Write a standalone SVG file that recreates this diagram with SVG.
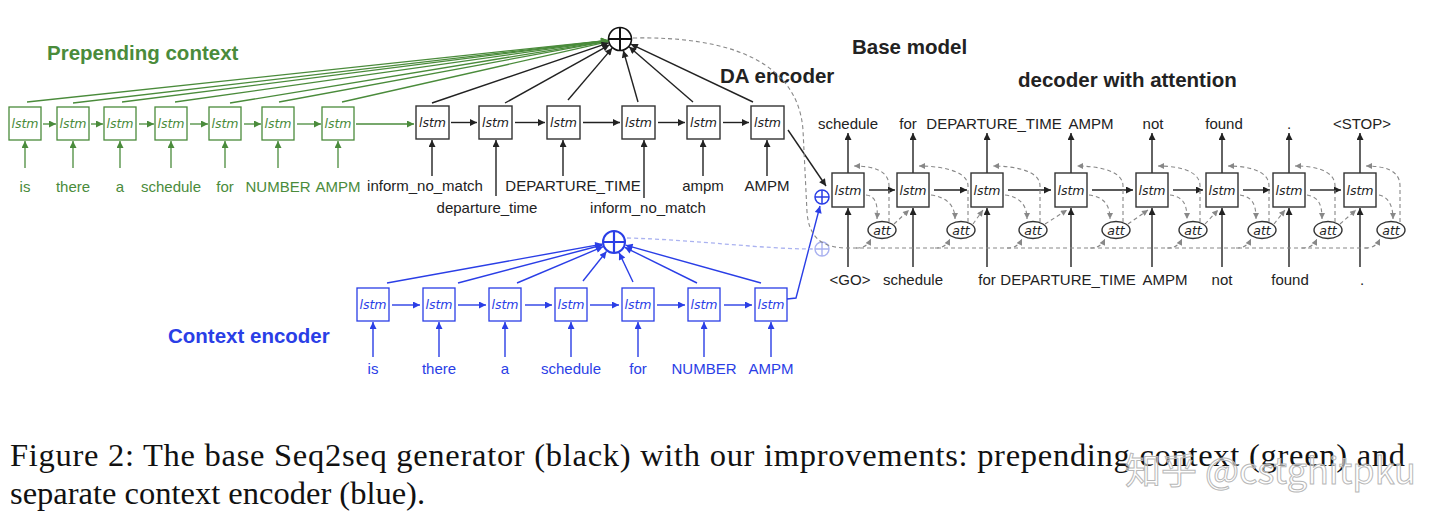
<svg xmlns="http://www.w3.org/2000/svg" width="1440" height="530" viewBox="0 0 1440 530">
<defs>
<style>
.t{font-family:"Liberation Sans",Arial,sans-serif;font-size:15px;text-anchor:middle}
.h{font-family:"Liberation Sans",Arial,sans-serif;font-size:20.5px;font-weight:bold}
.ls{font-family:"DejaVu Sans","Liberation Sans",sans-serif;font-size:12.5px;font-style:italic;text-anchor:middle}
.g{fill:#4a8b3b}.b{fill:#2a3ee6}.k{fill:#222}
.bg{fill:#fff;stroke:#4a8b3b;stroke-width:1.3}
.bb{fill:#fff;stroke:#2a3ee6;stroke-width:1.3}
.bk{fill:#fff;stroke:#333;stroke-width:1.4}
.lg{stroke:#4a8b3b;stroke-width:1.3;fill:none;marker-end:url(#ag)}
.lb{stroke:#2a3ee6;stroke-width:1.4;fill:none;marker-end:url(#ab)}
.lk{stroke:#222;stroke-width:1.4;fill:none;marker-end:url(#ak)}
.ld{stroke:#888;stroke-width:1.1;stroke-dasharray:4 3;fill:none;marker-end:url(#ad)}
.ldn{stroke:#888;stroke-width:1.1;stroke-dasharray:4 3;fill:none}
.cap{font-family:"Liberation Serif","Times New Roman",serif;font-size:32.5px;fill:#111}
</style>
<marker id="ak" viewBox="0 0 10 10" refX="10" refY="5" markerWidth="9" markerHeight="7" markerUnits="userSpaceOnUse" orient="auto"><path d="M0,0 L10,5 L0,10 z" fill="#222"/></marker>
<marker id="ag" viewBox="0 0 10 10" refX="10" refY="5" markerWidth="9" markerHeight="7" markerUnits="userSpaceOnUse" orient="auto"><path d="M0,0 L10,5 L0,10 z" fill="#4a8b3b"/></marker>
<marker id="ab" viewBox="0 0 10 10" refX="10" refY="5" markerWidth="9" markerHeight="7" markerUnits="userSpaceOnUse" orient="auto"><path d="M0,0 L10,5 L0,10 z" fill="#2a3ee6"/></marker>
<marker id="ad" viewBox="0 0 10 10" refX="10" refY="5" markerWidth="8" markerHeight="6" markerUnits="userSpaceOnUse" orient="auto"><path d="M0,0 L10,5 L0,10 z" fill="#888"/></marker>
</defs>
<rect width="1440" height="530" fill="#fff"/>

<!-- titles -->
<text class="h g" x="47" y="60">Prepending context</text>
<text class="h k" x="720" y="83">DA encoder</text>
<text class="h k" x="852" y="54">Base model</text>
<text class="h k" x="1018" y="87">decoder with attention</text>
<text class="h b" x="168" y="343">Context encoder</text>

<!-- sum nodes -->
<g id="sum-top"><circle cx="620" cy="39" r="11.5" fill="#fff" stroke="#111" stroke-width="1.6"/><path d="M608.5,39 H631.5 M620,27.5 V50.5" stroke="#111" stroke-width="2"/></g>
<g id="sum-ctx"><circle cx="614" cy="242" r="11" fill="#fff" stroke="#2a3ee6" stroke-width="2"/><path d="M603,242 H625 M614,231 V253" stroke="#2a3ee6" stroke-width="2.2"/></g>
<g id="sum-init"><circle cx="822" cy="197" r="7" fill="#fff" stroke="#2a3ee6" stroke-width="1.5"/><path d="M815,197 H829 M822,190 V204" stroke="#2a3ee6" stroke-width="1.5"/></g>
<g id="sum-init2"><circle cx="822" cy="249" r="7" fill="#fff" stroke="#aab2f0" stroke-width="1.4"/><path d="M815,249 H829 M822,242 V256" stroke="#aab2f0" stroke-width="1.4"/></g>

<!-- connectors -->
<g id="connectors">
<path class="lg" d="M27,102 L608.1,40.3"/>
<path class="lg" d="M73,103 L608.1,40.4"/>
<path class="lg" d="M122,102 L608.1,40.5"/>
<path class="lg" d="M175,102 L608.1,40.7"/>
<path class="lg" d="M230,103 L608.2,40.9"/>
<path class="lg" d="M279,102 L608.2,41.2"/>
<path class="lg" d="M342,102 L608.3,41.7"/>
<path class="lg" d="M43,124 H56"/>
<path class="lg" d="M91,124 H103"/>
<path class="lg" d="M139,124 H154"/>
<path class="lg" d="M190,124 H208"/>
<path class="lg" d="M244,124 H261"/>
<path class="lg" d="M297,124 H321"/>
<path class="lg" d="M356,124 H414"/>
<path class="lg" d="M25,168 V141"/>
<path class="lg" d="M73,168 V141"/>
<path class="lg" d="M120,168 V141"/>
<path class="lg" d="M171,168 V141"/>
<path class="lg" d="M225,168 V141"/>
<path class="lg" d="M278,168 V141"/>
<path class="lg" d="M338,168 V141"/>
<path class="lk" d="M432,103 L608.6,42.9"/>
<path class="lk" d="M505,103 L609.5,44.8"/>
<path class="lk" d="M568,100 L612.2,48.1"/>
<path class="lk" d="M638,102 L623.3,50.5"/>
<path class="lk" d="M693,102 L629.1,46.8"/>
<path class="lk" d="M753,102 L630.8,44.1"/>
<path class="lk" d="M451,122.5 H477"/>
<path class="lk" d="M515,122.5 H545"/>
<path class="lk" d="M583,122.5 H620"/>
<path class="lk" d="M658,122.5 H685"/>
<path class="lk" d="M723,122.5 H749"/>
<path class="lk" d="M432,176 V140"/>
<path class="lk" d="M496,196 V140"/>
<path class="lk" d="M563,176 V140"/>
<path class="lk" d="M644,198 V140"/>
<path class="lk" d="M703,176 V140"/>
<path class="lk" d="M767,176 V140"/>
<path class="lk" d="M788,130 L826,186"/>
<path class="lb" d="M387,283 L602.2,244.1"/>
<path class="lb" d="M458,283 L602.4,245"/>
<path class="lb" d="M517,283 L603,246.7"/>
<path class="lb" d="M583,281 L606.5,251.4"/>
<path class="lb" d="M633,282 L619.1,252.8"/>
<path class="lb" d="M697,283 L624.8,247.3"/>
<path class="lb" d="M761,283 L625.6,245.2"/>
<path class="lb" d="M392,305 H420"/>
<path class="lb" d="M458,305 H486"/>
<path class="lb" d="M525,305 H552"/>
<path class="lb" d="M590,305 H619"/>
<path class="lb" d="M657,305 H685"/>
<path class="lb" d="M724,305 H752"/>
<path class="lb" d="M373,357 V322"/>
<path class="lb" d="M439,357 V322"/>
<path class="lb" d="M505,357 V322"/>
<path class="lb" d="M571,357 V322"/>
<path class="lb" d="M638,357 V322"/>
<path class="lb" d="M704,357 V322"/>
<path class="lb" d="M771,357 V322"/>
<path class="lb" d="M787,299 L796,298 L820,206"/>
<path d="M627,238 C700,240 760,249 814,249" stroke="#aab2f0" stroke-width="1.3" stroke-dasharray="4 3" fill="none"/>
<path class="lk" d="M869,190 H895"/>
<path class="lk" d="M934,190 H967"/>
<path class="lk" d="M1008,190 H1051"/>
<path class="lk" d="M1092,190 H1133"/>
<path class="lk" d="M1173,190 H1203"/>
<path class="lk" d="M1243,190 H1270"/>
<path class="lk" d="M1310,190 H1341"/>
<path class="lk" d="M848,173 V133"/>
<path class="lk" d="M913,173 V133"/>
<path class="lk" d="M987,173 V133"/>
<path class="lk" d="M1071,173 V133"/>
<path class="lk" d="M1152,173 V133"/>
<path class="lk" d="M1222,173 V133"/>
<path class="lk" d="M1289,173 V133"/>
<path class="lk" d="M1360,173 V133"/>
<path class="lk" d="M848,267 V208"/>
<path class="lk" d="M913,267 V208"/>
<path class="lk" d="M987,267 V208"/>
<path class="lk" d="M1071,267 V208"/>
<path class="lk" d="M1152,267 V208"/>
<path class="lk" d="M1222,267 V208"/>
<path class="lk" d="M1289,267 V208"/>
<path class="lk" d="M1360,267 V208"/>
<path class="ldn" d="M633,38 C730,36 798,62 803,130 L807,212 C809,238 822,248 848,248 L1368,248"/>
<path class="ld" d="M866,195 C876,196 878,205 877,219"/>
<path class="ld" d="M931,195 C946,197 955,205 955,219"/>
<path class="ld" d="M1005,195 C1020,197 1027,205 1027,219"/>
<path class="ld" d="M1089,195 C1104,197 1110,205 1110,219"/>
<path class="ld" d="M1170,195 C1184,197 1187,205 1187,219"/>
<path class="ld" d="M1240,195 C1253,197 1256,205 1256,219"/>
<path class="ld" d="M1307,195 C1319,197 1322,205 1322,219"/>
<path class="ld" d="M1379,195 C1388,197 1393,205 1393,219"/>
<path class="ld" d="M889,222 V186 C889,169 870,166 854,166"/>
<path class="ld" d="M968,222 V186 C968,169 935,166 919,166"/>
<path class="ld" d="M1040,222 V186 C1040,169 1009,166 993,166"/>
<path class="ld" d="M1123,222 V186 C1123,169 1093,166 1077,166"/>
<path class="ld" d="M1200,222 V186 C1200,169 1174,166 1158,166"/>
<path class="ld" d="M1269,222 V186 C1269,169 1244,166 1228,166"/>
<path class="ld" d="M1335,222 V186 C1335,169 1311,166 1295,166"/>
<path class="ld" d="M1400,222 V186 C1400,169 1382,166 1366,166"/>
<path class="ld" d="M894,224 L909,210"/>
<path class="ld" d="M973,224 L983,210"/>
<path class="ld" d="M1045,224 L1067,210"/>
<path class="ld" d="M1128,224 L1148,210"/>
<path class="ld" d="M1205,224 L1218,210"/>
<path class="ld" d="M1274,224 L1285,210"/>
<path class="ld" d="M1340,224 L1356,210"/>
<path class="ld" d="M856,248 C864,248 868,245 871,239"/>
<path class="ld" d="M935,248 C943,248 947,245 950,239"/>
<path class="ld" d="M1007,248 C1015,248 1019,245 1022,239"/>
<path class="ld" d="M1090,248 C1098,248 1102,245 1105,239"/>
<path class="ld" d="M1167,248 C1175,248 1179,245 1182,239"/>
<path class="ld" d="M1236,248 C1244,248 1248,245 1251,239"/>
<path class="ld" d="M1302,248 C1310,248 1314,245 1317,239"/>
<path class="ld" d="M1365,248 C1373,248 1377,245 1380,239"/>
</g>

<g id="pc1"><rect class="bg" x="9" y="107" width="32" height="33"/><text class="ls g" x="25" y="128">lstm</text></g>
<g id="pc2"><rect class="bg" x="57" y="107" width="32" height="33"/><text class="ls g" x="73" y="128">lstm</text></g>
<g id="pc3"><rect class="bg" x="104" y="107" width="32" height="33"/><text class="ls g" x="120" y="128">lstm</text></g>
<g id="pc4"><rect class="bg" x="155" y="107" width="32" height="33"/><text class="ls g" x="171" y="128">lstm</text></g>
<g id="pc5"><rect class="bg" x="209" y="107" width="32" height="33"/><text class="ls g" x="225" y="128">lstm</text></g>
<g id="pc6"><rect class="bg" x="262" y="107" width="32" height="33"/><text class="ls g" x="278" y="128">lstm</text></g>
<g id="pc7"><rect class="bg" x="322" y="107" width="32" height="33"/><text class="ls g" x="338" y="128">lstm</text></g>
<g id="pc-labels">
<text class="t g" x="25" y="192">is</text>
<text class="t g" x="73" y="192">there</text>
<text class="t g" x="120" y="192">a</text>
<text class="t g" x="171" y="192">schedule</text>
<text class="t g" x="225" y="192">for</text>
<text class="t g" x="278" y="192">NUMBER</text>
<text class="t g" x="338" y="192">AMPM</text>
</g>

<g id="da1"><rect class="bk" x="416" y="106" width="33" height="33"/><text class="ls k" x="432.5" y="127">lstm</text></g>
<g id="da2"><rect class="bk" x="479" y="106" width="33" height="33"/><text class="ls k" x="495.5" y="127">lstm</text></g>
<g id="da3"><rect class="bk" x="547" y="106" width="33" height="33"/><text class="ls k" x="563.5" y="127">lstm</text></g>
<g id="da4"><rect class="bk" x="622" y="106" width="33" height="33"/><text class="ls k" x="638.5" y="127">lstm</text></g>
<g id="da5"><rect class="bk" x="687" y="106" width="33" height="33"/><text class="ls k" x="703.5" y="127">lstm</text></g>
<g id="da6"><rect class="bk" x="751" y="106" width="33" height="33"/><text class="ls k" x="767.5" y="127">lstm</text></g>
<g id="da-labels">
<text class="t k" x="425" y="191">inform_no_match</text>
<text class="t k" x="487" y="213">departure_time</text>
<text class="t k" x="573" y="191">DEPARTURE_TIME</text>
<text class="t k" x="648" y="213">inform_no_match</text>
<text class="t k" x="703" y="191">ampm</text>
<text class="t k" x="767" y="191">AMPM</text>
</g>

<g id="ce1"><rect class="bb" x="357" y="288" width="32" height="33"/><text class="ls b" x="373" y="309">lstm</text></g>
<g id="ce2"><rect class="bb" x="423" y="288" width="32" height="33"/><text class="ls b" x="439" y="309">lstm</text></g>
<g id="ce3"><rect class="bb" x="489" y="288" width="32" height="33"/><text class="ls b" x="505" y="309">lstm</text></g>
<g id="ce4"><rect class="bb" x="555" y="288" width="32" height="33"/><text class="ls b" x="571" y="309">lstm</text></g>
<g id="ce5"><rect class="bb" x="622" y="288" width="32" height="33"/><text class="ls b" x="638" y="309">lstm</text></g>
<g id="ce6"><rect class="bb" x="688" y="288" width="32" height="33"/><text class="ls b" x="704" y="309">lstm</text></g>
<g id="ce7"><rect class="bb" x="755" y="288" width="32" height="33"/><text class="ls b" x="771" y="309">lstm</text></g>
<g id="ce-labels">
<text class="t b" x="373" y="374">is</text>
<text class="t b" x="439" y="374">there</text>
<text class="t b" x="505" y="374">a</text>
<text class="t b" x="571" y="374">schedule</text>
<text class="t b" x="638" y="374">for</text>
<text class="t b" x="704" y="374">NUMBER</text>
<text class="t b" x="771" y="374">AMPM</text>
</g>

<g id="dec1"><rect class="bk" x="832" y="173" width="32" height="34"/><text class="ls k" x="848" y="194.5">lstm</text></g>
<g id="dec2"><rect class="bk" x="897" y="173" width="32" height="34"/><text class="ls k" x="913" y="194.5">lstm</text></g>
<g id="dec3"><rect class="bk" x="971" y="173" width="32" height="34"/><text class="ls k" x="987" y="194.5">lstm</text></g>
<g id="dec4"><rect class="bk" x="1055" y="173" width="32" height="34"/><text class="ls k" x="1071" y="194.5">lstm</text></g>
<g id="dec5"><rect class="bk" x="1136" y="173" width="32" height="34"/><text class="ls k" x="1152" y="194.5">lstm</text></g>
<g id="dec6"><rect class="bk" x="1206" y="173" width="32" height="34"/><text class="ls k" x="1222" y="194.5">lstm</text></g>
<g id="dec7"><rect class="bk" x="1273" y="173" width="32" height="34"/><text class="ls k" x="1289" y="194.5">lstm</text></g>
<g id="dec8"><rect class="bk" x="1344" y="173" width="32" height="34"/><text class="ls k" x="1360" y="194.5">lstm</text></g>
<g id="att1"><ellipse class="bk" cx="882" cy="230" rx="14" ry="8.5"/><text class="ls k" x="882" y="234.5">att</text></g>
<g id="att2"><ellipse class="bk" cx="961" cy="230" rx="14" ry="8.5"/><text class="ls k" x="961" y="234.5">att</text></g>
<g id="att3"><ellipse class="bk" cx="1033" cy="230" rx="14" ry="8.5"/><text class="ls k" x="1033" y="234.5">att</text></g>
<g id="att4"><ellipse class="bk" cx="1116" cy="230" rx="14" ry="8.5"/><text class="ls k" x="1116" y="234.5">att</text></g>
<g id="att5"><ellipse class="bk" cx="1193" cy="230" rx="14" ry="8.5"/><text class="ls k" x="1193" y="234.5">att</text></g>
<g id="att6"><ellipse class="bk" cx="1262" cy="230" rx="14" ry="8.5"/><text class="ls k" x="1262" y="234.5">att</text></g>
<g id="att7"><ellipse class="bk" cx="1328" cy="230" rx="14" ry="8.5"/><text class="ls k" x="1328" y="234.5">att</text></g>
<g id="att8"><ellipse class="bk" cx="1391" cy="230" rx="14" ry="8.5"/><text class="ls k" x="1391" y="234.5">att</text></g>
<g id="dec-out-labels">
<text class="t k" x="848" y="129">schedule</text>
<text class="t k" x="908" y="129">for</text>
<text class="t k" x="994" y="129">DEPARTURE_TIME</text>
<text class="t k" x="1091" y="129">AMPM</text>
<text class="t k" x="1153" y="129">not</text>
<text class="t k" x="1224" y="129">found</text>
<text class="t k" x="1289" y="129">.</text>
<text class="t k" x="1362" y="129">&lt;STOP&gt;</text>
</g>
<g id="dec-in-labels">
<text class="t k" x="850" y="285">&lt;GO&gt;</text>
<text class="t k" x="913" y="285">schedule</text>
<text class="t k" x="987" y="285">for</text>
<text class="t k" x="1068" y="285">DEPARTURE_TIME</text>
<text class="t k" x="1165" y="285">AMPM</text>
<text class="t k" x="1222" y="285">not</text>
<text class="t k" x="1290" y="285">found</text>
<text class="t k" x="1362" y="285">.</text>
</g>

<text class="cap" x="10" y="466" textLength="1395" lengthAdjust="spacing">Figure 2: The base Seq2seq generator (black) with our improvements: prepending context (green) and</text>
<text class="cap" x="10" y="504">separate context encoder (blue).</text>
<text x="1125" y="484" font-family="'Noto Sans CJK SC','Noto Sans',sans-serif" font-size="36" fill="#ffffff" fill-opacity="0.55" stroke="#b8b8b8" stroke-width="1">知乎 @cstghitpku</text>
</svg>
